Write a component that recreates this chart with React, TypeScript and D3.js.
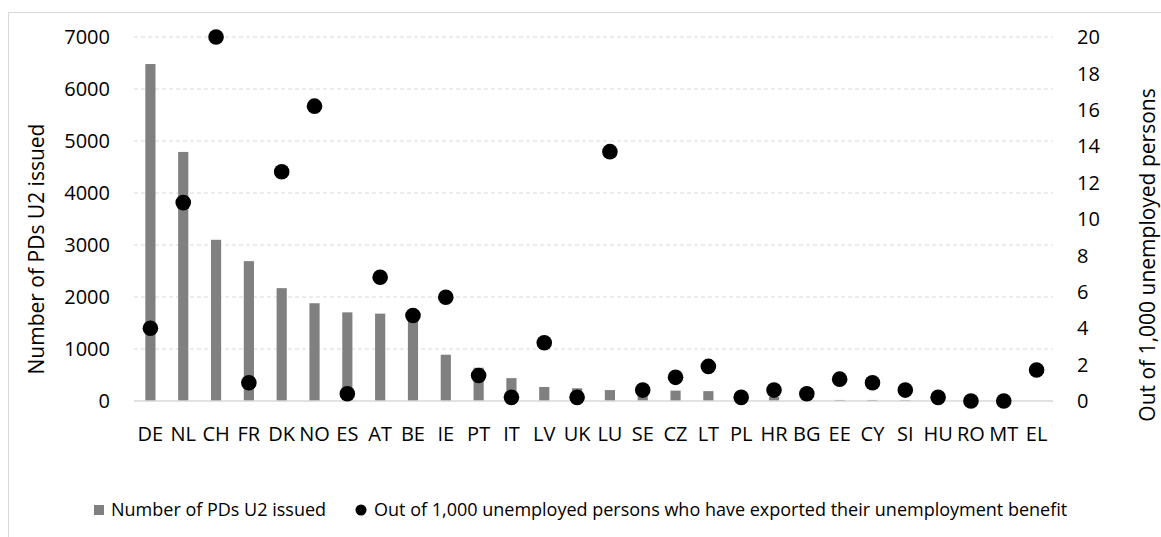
import React from "react";
import * as d3 from "d3";

const categories = ["DE","NL","CH","FR","DK","NO","ES","AT","BE","IE","PT","IT","LV","UK","LU","SE","CZ","LT","PL","HR","BG","EE","CY","SI","HU","RO","MT","EL"];
const pdsIssued = [6480,4790,3100,2690,2170,1880,1705,1680,1650,890,640,440,270,245,210,100,200,190,40,80,50,20,20,15,10,5,5,0];
const per1000 = [4.0,10.9,20,1.0,12.6,16.2,0.4,6.8,4.7,5.7,1.4,0.2,3.2,0.2,13.7,0.6,1.3,1.9,0.2,0.6,0.4,1.2,1.0,0.6,0.2,0,0,1.7];
const leftTicks = [0,1000,2000,3000,4000,5000,6000,7000];
const rightTicks = [0,2,4,6,8,10,12,14,16,18,20];
const leftTitle = "Number of PDs U2 issued";
const rightTitle = "Out of 1,000 unemployed persons";
const legendBar = "Number of PDs U2 issued";
const legendDot = "Out of 1,000 unemployed persons who have exported their unemployment benefit";

const W = 1161, H = 537;
const X0 = 134, X1 = 1053, Y0 = 401, Y1 = 37;
const FONT = "'Open Sans', sans-serif";

export default function App() {
  const x = d3.scaleBand<string>().domain(categories).range([X0, X1]).paddingInner(0.69).paddingOuter(0.345);
  const yL = d3.scaleLinear().domain([0, 7000]).range([Y0, Y1]);
  const yR = d3.scaleLinear().domain([0, 20]).range([Y0, Y1]);
  const bw = x.bandwidth();
  return (
    <svg width={W} height={H} style={{ position: "absolute", left: 0, top: 0, background: "#fff" }} fontFamily={FONT}>
      <rect x={8.5} y={12.5} width={1160} height={600} fill="#fff" stroke="#d9d9d9" />
      {leftTicks.filter(t => t > 0).map(t => (
        <line key={t} x1={X0} x2={X1} y1={yL(t)} y2={yL(t)} stroke="#d9d9d9" strokeWidth={1} strokeDasharray="4,3" />
      ))}
      {categories.map((c, i) => (
        <rect key={c} x={x(c)} y={yL(pdsIssued[i])} width={bw} height={Y0 - yL(pdsIssued[i])} fill="#808080" />
      ))}
      <line x1={X0} x2={X1} y1={Y0} y2={Y0} stroke="#d9d9d9" strokeWidth={1.5} />
      {categories.map((c, i) => (
        <circle key={c} cx={(x(c) as number) + bw / 2} cy={yR(per1000[i])} r={7.8} fill="#000" />
      ))}
      {leftTicks.map(t => (
        <text key={t} x={110} y={yL(t)} dy="0.36em" textAnchor="end" fontSize={20} fill="#000">{t}</text>
      ))}
      {rightTicks.map(t => (
        <text key={t} x={1077} y={yR(t)} dy="0.36em" textAnchor="start" fontSize={20} fill="#000">{t}</text>
      ))}
      {categories.map(c => (
        <text key={c} x={(x(c) as number) + bw / 2} y={441} textAnchor="middle" fontSize={20} fill="#000">{c}</text>
      ))}
      <text transform={`translate(44,${(Y0 + Y1) / 2 + 30}) rotate(-90)`} textAnchor="middle" fontSize={21} fill="#000">{leftTitle}</text>
      <text transform={`translate(1155,255) rotate(-90)`} textAnchor="middle" fontSize={21} fill="#000">{rightTitle}</text>
      <rect x={94} y={505} width={10} height={10} fill="#808080" />
      <text x={111} y={516} fontSize={18} fill="#000">{legendBar}</text>
      <circle cx={361} cy={510} r={5.5} fill="#000" />
      <text x={374} y={516} fontSize={18} fill="#000">{legendDot}</text>
    </svg>
  );
}
